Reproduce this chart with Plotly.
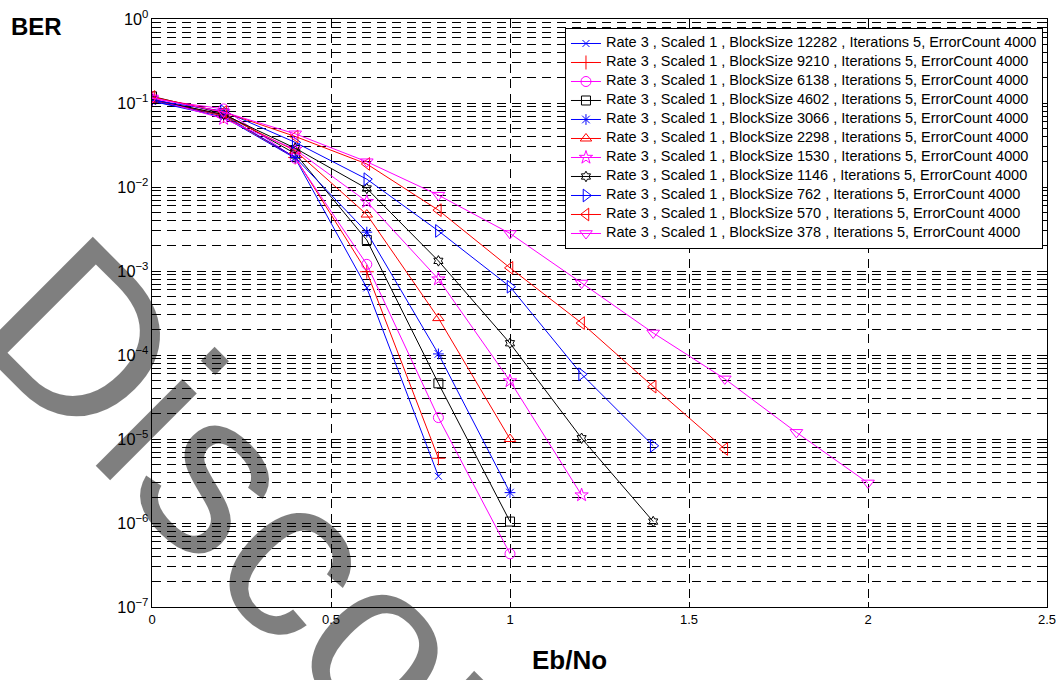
import plotly.graph_objects as go

# ---- data ----
ebno = [0.0, 0.2, 0.4, 0.6, 0.8, 1.0, 1.2, 1.4, 1.6, 1.8, 2.0]

block_sizes = [12282, 9210, 6138, 4602, 3066, 2298, 1530, 1146, 762, 570, 378]

ber_12282 = [0.105, 0.068, 0.022, 6.3e-4, 3.6e-6]
ber_9210 = [0.108, 0.070, 0.0225, 9.8e-4, 5.9e-6]
ber_6138 = [0.112, 0.085, 0.022, 1.2e-3, 1.8e-5, 4.3e-7]
ber_4602 = [0.120, 0.075, 0.025, 2.34e-3, 4.6e-5, 1.04e-6]
ber_3066 = [0.105, 0.072, 0.0225, 2.9e-3, 1.03e-4, 2.3e-6]
ber_2298 = [0.110, 0.072, 0.027, 4.7e-3, 2.75e-4, 1.0e-5]
ber_1530 = [0.113, 0.065, 0.028, 6.7e-3, 8.0e-4, 4.9e-5, 2.15e-6]
ber_1146 = [0.110, 0.073, 0.029, 9.6e-3, 1.32e-3, 1.38e-4, 1.02e-5, 1.04e-6]
ber_762 = [0.108, 0.080, 0.034, 1.24e-2, 3.0e-3, 6.5e-4, 5.9e-5, 8.3e-6]
ber_570 = [0.118, 0.078, 0.040, 1.88e-2, 5.3e-3, 1.09e-3, 2.4e-4, 4.2e-5, 7.6e-6]
ber_378 = [0.115, 0.078, 0.043, 2.0e-2, 8.0e-3, 2.8e-3, 7.2e-4, 1.83e-4, 5.2e-5, 1.2e-5, 3.0e-6]

series = [ber_12282, ber_9210, ber_6138, ber_4602, ber_3066, ber_2298,
          ber_1530, ber_1146, ber_762, ber_570, ber_378]

colors = ["#0000FF", "#FF0000", "#FF00FF", "#000000"] * 3
symbols = ["x-thin-open", "cross-thin-open", "circle-open", "square-open",
           "asterisk-open", "triangle-up-open", "star-open", "hexagram-open",
           "triangle-right-open", "triangle-left-open", "triangle-down-open"]
sizes = [7, 10, 10, 9, 9, 10, 10, 8, 11, 11, 11]

FONT = "Liberation Sans, Arial, Helvetica, sans-serif"
DASH = "9px,6px"

fig = go.Figure()
for bs, vals, col, sym, sz in zip(block_sizes, series, colors, symbols, sizes):
    label = f"Rate 3 , Scaled 1 , BlockSize {bs} , Iterations 5, ErrorCount 4000"
    fig.add_trace(go.Scatter(
        x=ebno[:len(vals)], y=vals, mode="lines+markers",
        name=f'<span style="font-size:14.5px">{label}</span>',
        line=dict(color=col, width=1),
        marker=dict(symbol=sym, size=sz, color=col, line=dict(color=col, width=1)),
    ))

fig.update_layout(
    width=1058, height=680,
    margin=dict(l=152, r=11, t=19, b=73),
    paper_bgcolor="white", plot_bgcolor="white",
    font=dict(family=FONT, color="black", size=13),
    showlegend=True,
    legend=dict(
        x=0.9955, y=0.9847, xanchor="right", yanchor="top",
        bgcolor="white", bordercolor="black", borderwidth=1,
        font=dict(family=FONT, size=10, color="black"),
        tracegroupgap=0,
    ),
    xaxis=dict(
        range=[0, 2.5], dtick=0.5, tick0=0, automargin=False,
        showline=True, linecolor="black", linewidth=1, mirror="ticks",
        ticks="inside", ticklen=5, tickcolor="black",
        showgrid=True, gridcolor="black", gridwidth=1, griddash=DASH,
        zeroline=False, tickfont=dict(size=13),
    ),
    yaxis=dict(
        type="log", range=[-7, 0], dtick=1, tick0=0, automargin=False,
        exponentformat="power", showexponent="all",
        labelalias={"1": "10<sup>0</sup>"},
        showline=True, linecolor="black", linewidth=1, mirror="ticks",
        ticks="inside", ticklen=5, tickcolor="black",
        showgrid=True, gridcolor="black", gridwidth=1, griddash=DASH,
        zeroline=False, tickfont=dict(size=13),
        minor=dict(dtick="D1", ticks="inside", ticklen=3, tickcolor="black",
                   showgrid=True, gridcolor="black", gridwidth=1, griddash=DASH),
    ),
)

# axis titles placed as in the reference
fig.add_annotation(text="<b>BER</b>", xref="paper", yref="paper",
                   x=-0.1296, y=0.988, xanchor="center", yanchor="middle",
                   showarrow=False,
                   font=dict(family=FONT, size=24, color="black"))
fig.add_annotation(text="<b>Eb/No</b>", xref="paper", yref="paper",
                   x=0.466, y=-0.090, xanchor="center", yanchor="middle",
                   showarrow=False,
                   font=dict(family=FONT, size=26, color="black"))

# diagonal watermark
fig.add_annotation(text="Discontinued", xref="paper", yref="paper",
                   x=0.386, y=-0.249, xanchor="center", yanchor="middle",
                   showarrow=False, textangle=45,
                   font=dict(family=FONT, size=232, color="rgba(0,0,0,0.5)"))

fig.write_html("out.html",
               config={"displayModeBar": False},
               post_script="document.body.style.margin='0px';")
